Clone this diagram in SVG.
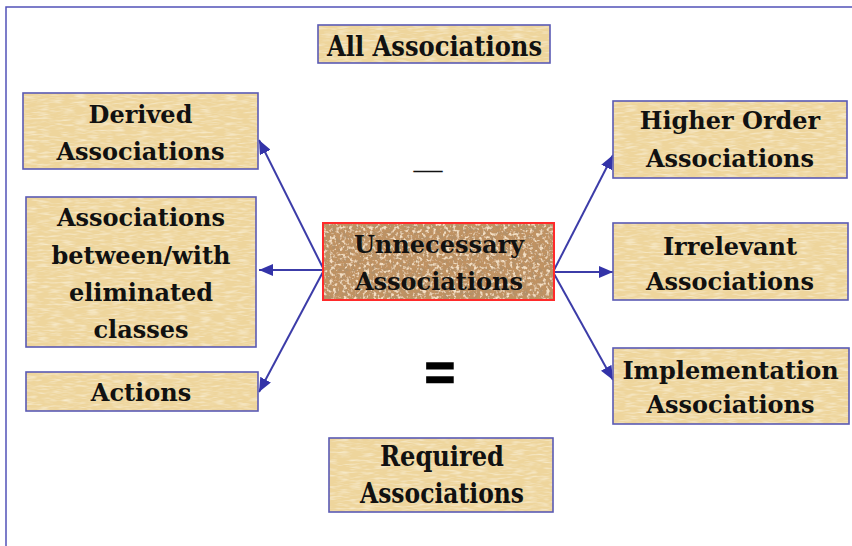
<svg xmlns="http://www.w3.org/2000/svg" width="852" height="546" viewBox="0 0 852 546">
<style>
.box{fill:#eed59c;filter:url(#paper)}
.core{fill:#c09262;filter:url(#cork)}
.bd{fill:none;stroke:#5a5ab4;stroke-width:1.6}
.bdr{fill:none;stroke:#ff2a2a;stroke-width:2}
.t{font-family:'DejaVu Serif',serif;font-weight:700;font-size:24px;fill:#111;text-anchor:middle}
.tc{font-family:'DejaVu Serif',serif;font-weight:700;font-size:28px;fill:#111;text-anchor:middle}
.arr{stroke:#3c3ca8;stroke-width:2;fill:none;marker-end:url(#ah)}
</style>
<defs>
<filter id="paper" x="0" y="0" width="1" height="1">
<feTurbulence type="fractalNoise" baseFrequency="0.08 0.5" numOctaves="2" seed="4" result="n"/>
<feColorMatrix in="n" type="matrix" values="0 0 0 0 0.98 0 0 0 0 0.93 0 0 0 0 0.76 1.4 0 0 0 -0.62" result="c"/>
<feComposite in="c" in2="SourceGraphic" operator="atop"/>
</filter>
<filter id="cork" x="0" y="0" width="1" height="1">
<feTurbulence type="fractalNoise" baseFrequency="0.25" numOctaves="2" seed="7" result="n1"/>
<feColorMatrix in="n1" type="matrix" values="0 0 0 0 0.45 0 0 0 0 0.28 0 0 0 0 0.14 4.5 0 0 0 -2.1" result="d"/>
<feTurbulence type="fractalNoise" baseFrequency="0.3" numOctaves="2" seed="13" result="n2"/>
<feColorMatrix in="n2" type="matrix" values="0 0 0 0 0.90 0 0 0 0 0.74 0 0 0 0 0.55 4.5 0 0 0 -2.3" result="l"/>
<feMerge result="m"><feMergeNode in="SourceGraphic"/><feMergeNode in="d"/><feMergeNode in="l"/></feMerge>
<feComposite in="m" in2="SourceGraphic" operator="in"/>
</filter>
<marker id="ah" markerUnits="userSpaceOnUse" markerWidth="14" markerHeight="12" refX="14" refY="6" orient="auto">
<path d="M0,0 L14,6 L0,12 Z" fill="#3333a8"/>
</marker>
</defs>
<rect x="6" y="7" width="900" height="600" fill="none" stroke="#5252b8" stroke-width="1.5"/>
<g id="connectors">
<line class="arr" x1="324" y1="270" x2="259" y2="140"/>
<line class="arr" x1="324" y1="270" x2="259" y2="270"/>
<line class="arr" x1="324" y1="270" x2="259" y2="392"/>
<line class="arr" x1="553" y1="272" x2="613" y2="155"/>
<line class="arr" x1="553" y1="272" x2="613" y2="272"/>
<line class="arr" x1="553" y1="272" x2="613" y2="380"/>
</g>
<g id="all">
<rect class="box" x="318" y="25" width="232" height="38"/>
<rect class="bd" x="318" y="25" width="232" height="38"/>
<text class="tc" x="434.5" y="56" textLength="215" lengthAdjust="spacingAndGlyphs">All Associations</text>
</g>
<g id="derived">
<rect class="box" x="23" y="93" width="235" height="76"/>
<rect class="bd" x="23" y="93" width="235" height="76"/>
<text class="t" x="140.5" y="123">Derived</text>
<text class="t" x="140.5" y="160">Associations</text>
</g>
<g id="eliminated">
<rect class="box" x="26" y="197" width="230" height="150"/>
<rect class="bd" x="26" y="197" width="230" height="150"/>
<text class="t" x="141" y="226">Associations</text>
<text class="t" x="141" y="264">between/with</text>
<text class="t" x="141" y="301">eliminated</text>
<text class="t" x="141" y="338">classes</text>
</g>
<g id="actions">
<rect class="box" x="26" y="372" width="232" height="39"/>
<rect class="bd" x="26" y="372" width="232" height="39"/>
<text class="t" x="141" y="401">Actions</text>
</g>
<g id="unnecessary">
<rect class="core" x="323" y="223" width="231" height="77"/>
<rect class="bdr" x="323" y="223" width="231" height="77"/>
<text class="t" x="439" y="253">Unnecessary</text>
<text class="t" x="439" y="290">Associations</text>
</g>
<g id="higher">
<rect class="box" x="613" y="101" width="234" height="77"/>
<rect class="bd" x="613" y="101" width="234" height="77"/>
<text class="t" x="730" y="129">Higher Order</text>
<text class="t" x="730" y="167">Associations</text>
</g>
<g id="irrelevant">
<rect class="box" x="613" y="223" width="235" height="77"/>
<rect class="bd" x="613" y="223" width="235" height="77"/>
<text class="t" x="730" y="255">Irrelevant</text>
<text class="t" x="730" y="290">Associations</text>
</g>
<g id="implementation">
<rect class="box" x="613" y="348" width="236" height="76"/>
<rect class="bd" x="613" y="348" width="236" height="76"/>
<text class="t" x="730.5" y="379">Implementation</text>
<text class="t" x="730.5" y="413">Associations</text>
</g>
<g id="required">
<rect class="box" x="329" y="438" width="224" height="74"/>
<rect class="bd" x="329" y="438" width="224" height="74"/>
<text class="tc" x="442" y="466" textLength="124" lengthAdjust="spacingAndGlyphs">Required</text>
<text class="tc" x="442" y="503" textLength="164" lengthAdjust="spacingAndGlyphs">Associations</text>
</g>
<text x="428" y="179" font-family="Liberation Serif" font-size="29" text-anchor="middle" fill="#111">—</text>
<text x="440" y="390" font-family="Liberation Sans" font-weight="bold" font-size="52" text-anchor="middle" fill="#000" stroke="#000" stroke-width="1.5">=</text>
</svg>
